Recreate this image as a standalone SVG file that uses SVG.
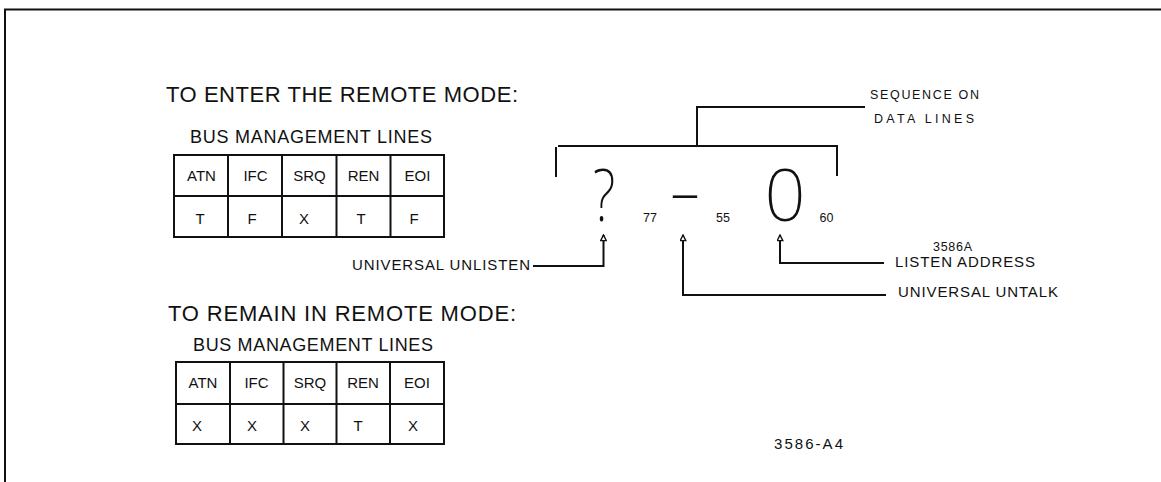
<svg xmlns="http://www.w3.org/2000/svg" width="1161" height="482" viewBox="0 0 1161 482">
<style>
text{font-family:"Liberation Sans",Arial,sans-serif;fill:#111;}
.t1{font-size:22px;}
.t2{font-size:18px;}
.th{font-size:15px;text-anchor:middle;}
.tv{font-size:15px;text-anchor:middle;}
.lb{font-size:15px;}
.sm{font-size:12.5px;}
.big{font-family:"Noto Sans","Lato","DejaVu Sans",sans-serif;font-weight:200;font-size:72px;text-anchor:middle;}
.ln{fill:none;stroke:#111;stroke-width:2;}
.cell{fill:none;stroke:#111;stroke-width:2;}
</style>
<defs>
<marker id="ah" viewBox="0 0 10 10" refX="9" refY="5" markerWidth="8" markerHeight="7" markerUnits="userSpaceOnUse" orient="auto-start-reverse">
<path d="M1,1 L9,5 L1,9 Z" fill="#fff" stroke="#111" stroke-width="2"/>
</marker>
</defs>
<rect width="1161" height="482" fill="#fff"/>
<g id="frame">
<path class="ln" d="M5,482 V9.5 H1161" stroke-width="3"/>
</g>
<g id="enter-title">
<text class="t1" x="166" y="102" textLength="352" lengthAdjust="spacing">TO ENTER THE REMOTE MODE:</text>
<text class="t2" x="190" y="143" textLength="242" lengthAdjust="spacing">BUS MANAGEMENT LINES</text>
</g>
<g id="enter-table">
<rect class="cell" x="174" y="155" width="270" height="82"/>
<path class="cell" d="M174,196 H444 M228,155 V237 M282,155 V237 M336.5,155 V237 M390.5,155 V237"/>
<text class="th" x="201.5" y="181">ATN</text>
<text class="th" x="255.5" y="181">IFC</text>
<text class="th" x="309.5" y="181">SRQ</text>
<text class="th" x="363.5" y="181">REN</text>
<text class="th" x="417.5" y="181">EOI</text>
<text class="tv" x="200" y="224">T</text>
<text class="tv" x="252" y="224">F</text>
<text class="tv" x="304" y="224">X</text>
<text class="tv" x="361" y="224">T</text>
<text class="tv" x="414" y="224">F</text>
</g>
<g id="remain-title">
<text class="t1" x="168" y="321" textLength="348" lengthAdjust="spacing">TO REMAIN IN REMOTE MODE:</text>
<text class="t2" x="193" y="351" textLength="240" lengthAdjust="spacing">BUS MANAGEMENT LINES</text>
</g>
<g id="remain-table">
<rect class="cell" x="176" y="362" width="268" height="82"/>
<path class="cell" d="M176,404 H444 M230,362 V444 M283.5,362 V444 M336.5,362 V444 M390,362 V444"/>
<text class="th" x="203" y="388">ATN</text>
<text class="th" x="256.5" y="388">IFC</text>
<text class="th" x="310" y="388">SRQ</text>
<text class="th" x="363" y="388">REN</text>
<text class="th" x="417" y="388">EOI</text>
<text class="tv" x="197" y="431">X</text>
<text class="tv" x="252" y="431">X</text>
<text class="tv" x="305" y="431">X</text>
<text class="tv" x="358" y="431">T</text>
<text class="tv" x="413" y="431">X</text>
</g>
<g id="sequence">
<text class="sm" x="870" y="98.5" textLength="109" lengthAdjust="spacing">SEQUENCE ON</text>
<text class="sm" x="874" y="123" textLength="100" lengthAdjust="spacing">DATA LINES</text>
<path class="ln" d="M556,147 V177 M558,146 H837 V176 M697,146 V107 H865"/>
</g>
<g id="char-unlisten">
<text class="big" x="604" y="221" transform="translate(604 0) scale(0.75 1) translate(-604 0)">?</text>
<text class="sm" x="643" y="222">77</text>
</g>
<g id="char-untalk">
<text class="big" x="685" y="216" transform="translate(685 0) scale(1.4 1) translate(-685 0)">-</text>
<text class="sm" x="716" y="222">55</text>
</g>
<g id="char-listen">
<text class="big" x="785" y="221">0</text>
<text class="sm" x="819.5" y="222">60</text>
</g>
<g id="connectors">
<path class="ln" d="M603.5,235 V266 H533" marker-start="url(#ah)"/>
<path class="ln" d="M683,235 V295 H886" marker-start="url(#ah)"/>
<path class="ln" d="M780,235 V263 H884" marker-start="url(#ah)"/>
</g>
<g id="labels">
<text class="lb" x="352" y="270" textLength="178" lengthAdjust="spacing">UNIVERSAL UNLISTEN</text>
<text class="sm" x="933" y="250.5" textLength="39" lengthAdjust="spacing">3586A</text>
<text class="lb" x="895" y="267" textLength="140" lengthAdjust="spacing">LISTEN ADDRESS</text>
<text class="lb" x="898" y="296.5" textLength="160" lengthAdjust="spacing">UNIVERSAL UNTALK</text>
<text class="lb" x="774" y="448.5" textLength="69" lengthAdjust="spacing">3586-A4</text>
</g>
</svg>
